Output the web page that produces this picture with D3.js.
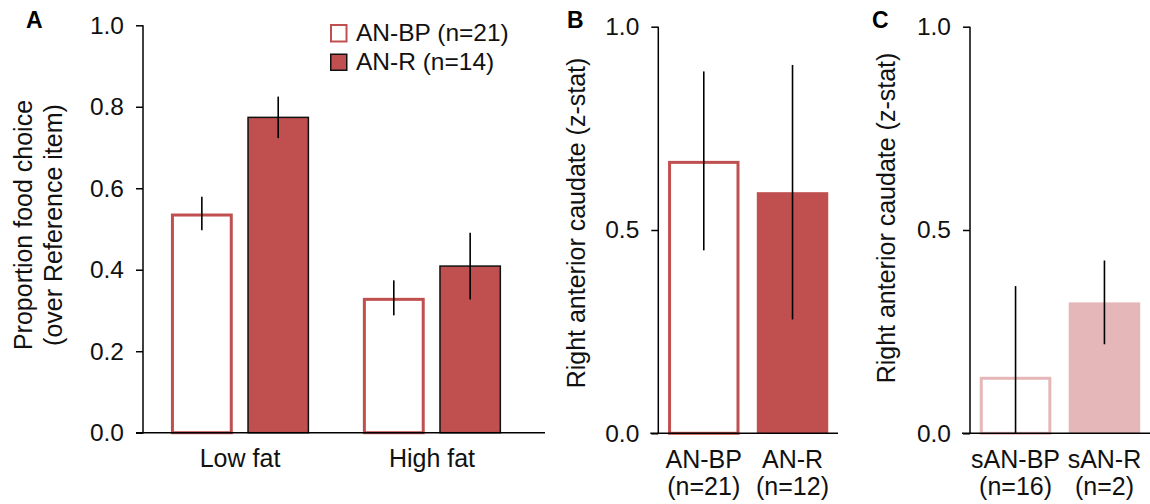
<!DOCTYPE html>
<html>
<head>
<meta charset="utf-8">
<script src="https://cdn.jsdelivr.net/npm/d3@7"></script>
<style>
  body { margin: 0; background: #fff; }
  svg { display: block; font-family: "Liberation Sans", Arial, sans-serif; }
  .axis path, .axis line { stroke: #000; stroke-width: 1.5px; }
  .axis text { font-size: 24.5px; fill: #111; font-family: "Liberation Sans", Arial, sans-serif; }
</style>
</head>
<body>
<script>
// panel A data
var foodGroups = ['Low fat', 'High fat'],
	seriesA = ['AN-BP (n=21)', 'AN-R (n=14)'],
	meanBP = [0.538, 0.331],
	errBP = [0.041, 0.043],
	meanR = [0.774, 0.409],
	errR = [0.051, 0.082];

// panel B data
var groupsB = ['AN-BP', 'AN-R'],
	nLabelsB = ['(n=21)', '(n=12)'],
	meanB = [0.670, 0.593],
	errB = [0.220, 0.313];

// panel C data
var groupsC = ['sAN-BP', 'sAN-R'],
	nLabelsC = ['(n=16)', '(n=2)'],
	meanC = [0.139, 0.322],
	errC = [0.223, 0.103];

var ticksA = [0, 0.2, 0.4, 0.6, 0.8, 1.0],
	ticksBC = [0, 0.5, 1.0];

var red = '#c0504f',
	pink = '#e6b7b8';

var svg = d3.select('body').append('svg')
	.attr('width', 1150)
	.attr('height', 504);

// draws an outlined (open) bar so the outer edge sits on the band edges
function openBar(g, x, w, yTop, yBase, color, sw) {
	g.append('rect')
		.attr('x', x + sw / 2)
		.attr('y', yTop + sw / 2)
		.attr('width', w - sw)
		.attr('height', Math.max(0, yBase - yTop - sw / 2))
		.attr('fill', '#fff')
		.attr('stroke', color)
		.attr('stroke-width', sw);
}

function errBar(g, cx, y, m, e) {
	g.append('line')
		.attr('x1', cx).attr('x2', cx)
		.attr('y1', y(m + e))
		.attr('y2', y(Math.max(0, m - e)))
		.attr('stroke', '#000')
		.attr('stroke-width', 1.6);
}

function yAxis(g, x0, y, ticks, fmt) {
	g.append('g')
		.attr('class', 'axis')
		.attr('transform', 'translate(' + x0 + ',0)')
		.call(d3.axisLeft(y).tickValues(ticks).tickFormat(d3.format(fmt)).tickSize(7).tickSizeOuter(0).tickPadding(12))
		.call(function(a) { a.select('.domain').attr('d', 'M0,' + (y(0) + 0.75) + 'V' + y(1)); });
}

function xLine(g, x1, x2, yv) {
	g.append('line')
		.attr('x1', x1).attr('x2', x2)
		.attr('y1', yv).attr('y2', yv)
		.attr('stroke', '#000')
		.attr('stroke-width', 1.6);
}

function yLabel(g, x, cy, text) {
	g.append('text')
		.attr('transform', 'translate(' + x + ',' + cy + ') rotate(-90)')
		.attr('text-anchor', 'middle')
		.style('font-size', '25px')
		.attr('fill', '#111')
		.text(text);
}

function panelLetter(x, y, t) {
	svg.append('text')
		.attr('x', x).attr('y', y)
		.style('font-size', '23px')
		.style('font-weight', 'bold')
		.text(t);
}

//////// panel A ////////
var gA = svg.append('g');
var yA = d3.scaleLinear().domain([0, 1]).range([432.7, 25.3]);
var x0A = d3.scaleBand().domain(foodGroups).range([150, 522]).paddingInner(0.28).paddingOuter(0.109);
var x1A = d3.scaleBand().domain(seriesA).range([0, x0A.bandwidth()]).paddingInner(0.19);

foodGroups.forEach(function(grp, i) {
	var xb = x0A(grp) + x1A(seriesA[0]);
	openBar(gA, xb, x1A.bandwidth(), yA(meanBP[i]), yA(0), red, 3);
	var xr = x0A(grp) + x1A(seriesA[1]);
	gA.append('rect')
		.attr('x', xr + 0.75)
		.attr('y', yA(meanR[i]))
		.attr('width', x1A.bandwidth() - 1.5)
		.attr('height', yA(0) - yA(meanR[i]))
		.attr('fill', red)
		.attr('stroke', '#111')
		.attr('stroke-width', 1.5);
	errBar(gA, xb + x1A.bandwidth() / 2, yA, meanBP[i], errBP[i]);
	errBar(gA, xr + x1A.bandwidth() / 2, yA, meanR[i], errR[i]);
});

yAxis(gA, 143, yA, ticksA, '.1f');
xLine(gA, 136, 545, yA(0));

gA.selectAll('.xlab')
	.data(foodGroups)
	.enter().append('text')
	.attr('x', function(d) { return x0A(d) + x0A.bandwidth() / 2; })
	.attr('y', 467)
	.attr('text-anchor', 'middle')
	.style('font-size', '25px')
	.attr('fill', '#111')
	.text(function(d) { return d; });

gA.append('text')
	.attr('transform', 'translate(32,225) rotate(-90)')
	.attr('text-anchor', 'middle')
	.style('font-size', '25px')
	.attr('fill', '#111')
	.text('Proportion food choice');
gA.append('text')
	.attr('transform', 'translate(62,225) rotate(-90)')
	.attr('text-anchor', 'middle')
	.style('font-size', '25px')
	.attr('fill', '#111')
	.text('(over Reference item)');

// legend
var leg = gA.append('g');
seriesA.forEach(function(s, i) {
	var ly = 24 + i * 29.5;
	if (i === 0) {
		openBar(leg, 330, 17.5, ly, ly + 17.5, red, 2);
	} else {
		leg.append('rect')
			.attr('x', 330.75).attr('y', ly + 0.75)
			.attr('width', 16).attr('height', 16)
			.attr('fill', red).attr('stroke', '#111').attr('stroke-width', 1.5);
	}
	leg.append('text')
		.attr('x', 356).attr('y', ly + 16.5)
		.style('font-size', '24.5px')
		.attr('fill', '#111')
		.text(s);
});

panelLetter(26, 28, 'A');

//////// panels B and C ////////
function smallPanel(left, right, axisX, yScale, groups, nLabels, means, errs, color, label, labelX, labelY, letterX) {
	var g = svg.append('g');
	var x = d3.scaleBand().domain(groups).range([axisX, right]).paddingInner(0.195).paddingOuter(0.11);

	// open bar for first group, filled for second
	openBar(g, x(groups[0]), x.bandwidth(), yScale(means[0]), yScale(0), color, 3);
	g.append('rect')
		.attr('x', x(groups[1]))
		.attr('y', yScale(means[1]))
		.attr('width', x.bandwidth())
		.attr('height', yScale(0) - yScale(means[1]))
		.attr('fill', color);

	groups.forEach(function(d, i) {
		errBar(g, x(d) + x.bandwidth() / 2, yScale, means[i], errs[i]);
	});

	yAxis(g, axisX, yScale, ticksBC, '.1f');
	xLine(g, axisX - 8, right, yScale(0));

	var labs = g.selectAll('.xlab')
		.data(groups)
		.enter().append('text')
		.attr('text-anchor', 'middle')
		.style('font-size', '25px')
		.attr('fill', '#111');
	labs.append('tspan')
		.attr('x', function(d) { return x(d) + x.bandwidth() / 2; })
		.attr('y', 468)
		.text(function(d) { return d; });
	labs.append('tspan')
		.attr('x', function(d) { return x(d) + x.bandwidth() / 2; })
		.attr('y', 495)
		.text(function(d, i) { return nLabels[i]; });

	yLabel(g, labelX, labelY, label);
	panelLetter(letterX, 28, left);
}

var yB = d3.scaleLinear().domain([0, 1]).range([433.3, 26.7]);
smallPanel('B', 838, 658.3, yB, groupsB, nLabelsB, meanB, errB, red, 'Right anterior caudate (z-stat)', 585, 223, 567);

var yC = d3.scaleLinear().domain([0, 1]).range([433.3, 26.7]);
smallPanel('C', 1150, 970, yC, groupsC, nLabelsC, meanC, errC, pink, 'Right anterior caudate (z-stat)', 895, 218, 872);
</script>
</body>
</html>
